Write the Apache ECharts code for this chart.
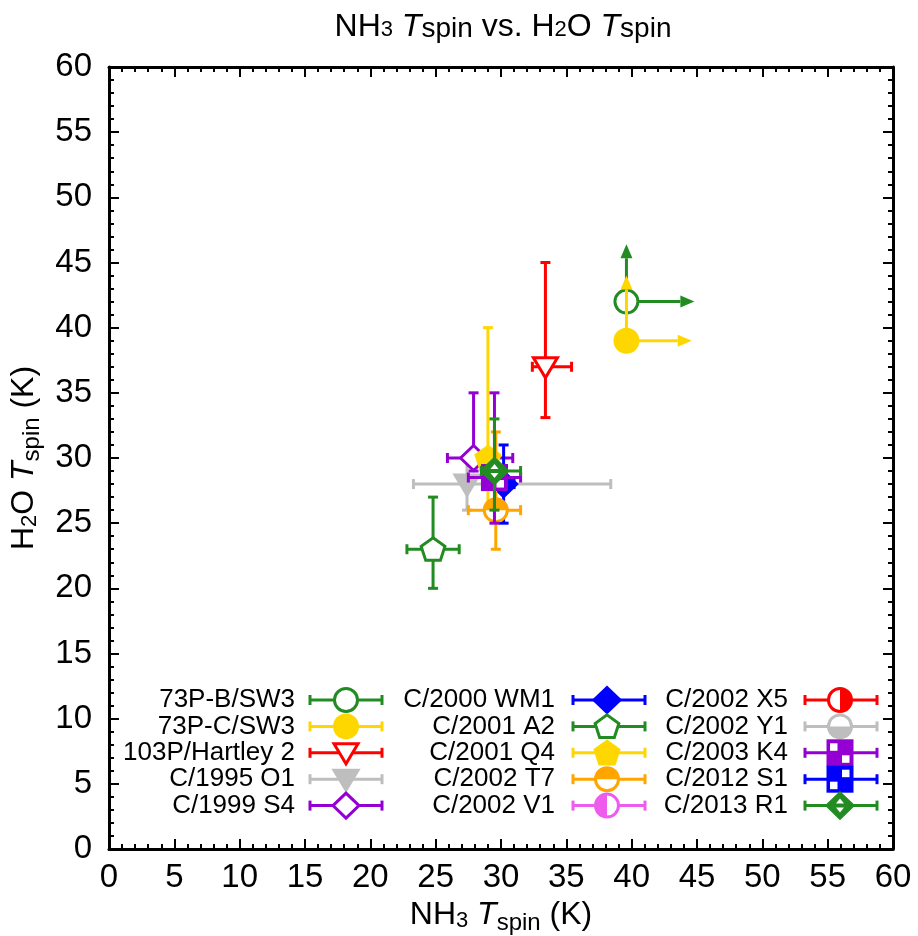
<!DOCTYPE html>
<html>
<head>
<meta charset="utf-8">
<script src="https://cdn.jsdelivr.net/npm/echarts@6/dist/echarts.min.js"></script>
<style>
  html, body { margin: 0; padding: 0; background: #fff; }
  #chart { width: 918px; height: 936px; }
</style>
</head>
<body>
<div id="chart"></div>
<script>
// Spin temperatures (K) of NH3 and H2O for a sample of comets.
const comets = [
  '73P-B/SW3', '73P-C/SW3', '103P/Hartley 2', 'C/1995 O1', 'C/1999 S4',
  'C/2000 WM1', 'C/2001 A2', 'C/2001 Q4', 'C/2002 T7', 'C/2002 V1',
  'C/2002 X5', 'C/2002 Y1', 'C/2003 K4', 'C/2012 S1', 'C/2013 R1'
];
const nh3     = [39.6, 39.6, 33.4, 27.4, 27.9, 30.2, 24.8, 29.0, 29.6, 29.5, 29.5, 29.5, 29.5, 29.5, 29.5];
const nh3Low  = [null, null, 32.4, 23.3, 25.9, 29.4, 22.8, 28.4, 27.5, 29.0, 29.0, 29.0, 27.5, 29.0, 28.5];
const nh3High = [null, null, 35.4, 38.4, 30.9, 31.0, 26.8, 29.6, 31.5, 30.0, 30.0, 30.0, 31.5, 30.0, 31.5];
const h2o     = [42.0, 39.0, 37.0, 28.0, 30.0, 28.0, 23.0, 30.0, 26.0, 28.5, 28.5, 28.5, 28.5, 28.5, 29.0];
const h2oLow  = [null, null, 33.1, 26.0, 29.0, 25.0, 20.0, 26.0, 23.0, 28.0, 28.0, 28.0, 25.0, 28.0, 26.0];
const h2oHigh = [null, null, 45.0, 30.0, 35.0, 31.0, 27.0, 40.0, 32.0, 29.0, 29.0, 29.0, 35.0, 29.0, 33.0];
// lower limits: arrow tips (in K) for the 73P fragments
const nh3LimitTo = [44.8, 44.6, null, null, null, null, null, null, null, null, null, null, null, null, null];
const h2oLimitTo = [46.4, 44.0, null, null, null, null, null, null, null, null, null, null, null, null, null];

const axisTicks = [0, 5, 10, 15, 20, 25, 30, 35, 40, 45, 50, 55, 60];

// marker appearance per comet
const markerKinds = [
  'circleOpen', 'circleFill', 'triDownOpen', 'triDownFill', 'diamondOpen',
  'diamondFill', 'pentOpen', 'pentFill', 'halfTop', 'halfLeft',
  'halfRight', 'halfBottom', 'squareA', 'squareB', 'diamondMarked'
];
const markerColors = [
  '#228B22', '#FFD700', '#FF0000', '#BEBEBE', '#9400D3',
  '#0000FF', '#228B22', '#FFD700', '#FFA500', '#EE5CEE',
  '#FF0000', '#BEBEBE', '#9400D3', '#0000FF', '#228B22'
];
// markers drawn underneath the cluster
const markerZ = [2, 2, 2, 2, 2, 2, 2, 2, 2, 1, 1, 1, 2, 1, 3];

const FONT = '"Liberation Sans", Arial, Helvetica, sans-serif';
const LW = 3;

function markerEls(kind, color, x, y) {
  const els = [];
  const R = 11.5;
  const half = (a0, a1) => [
    { type: 'circle', shape: { cx: x, cy: y, r: R }, style: { fill: '#fff', stroke: color, lineWidth: LW } },
    { type: 'sector', shape: { cx: x, cy: y, r0: 0, r: R, startAngle: a0, endAngle: a1, clockwise: true }, style: { fill: color } }
  ];
  const tri = [[x - 12, y - 9], [x + 12, y - 9], [x, y + 11]];
  const dia = [[x, y - 12.5], [x + 13, y], [x, y + 12.5], [x - 13, y]];
  const pent = [];
  for (let k = 0; k < 5; k++) {
    const a = -Math.PI / 2 + k * 2 * Math.PI / 5;
    pent.push([x + 12.5 * Math.cos(a), y + 1 + 12.5 * Math.sin(a)]);
  }
  const poly = (pts, fill) => ({ type: 'polygon', shape: { points: pts }, style: { fill: fill, stroke: color, lineWidth: LW, lineJoin: 'miter' } });
  switch (kind) {
    case 'circleOpen': els.push({ type: 'circle', shape: { cx: x, cy: y, r: R }, style: { fill: '#fff', stroke: color, lineWidth: LW } }); break;
    case 'circleFill': els.push({ type: 'circle', shape: { cx: x, cy: y, r: R + 1.5 }, style: { fill: color } }); break;
    case 'triDownOpen': els.push(poly(tri, '#fff')); break;
    case 'triDownFill': els.push(poly(tri, color)); break;
    case 'diamondOpen': els.push(poly(dia, '#fff')); break;
    case 'diamondFill': els.push(poly(dia, color)); break;
    case 'pentOpen': els.push(poly(pent, '#fff')); break;
    case 'pentFill': els.push(poly(pent, color)); break;
    case 'halfTop': els.push(...half(Math.PI, 2 * Math.PI)); break;
    case 'halfBottom': els.push(...half(0, Math.PI)); break;
    case 'halfLeft': els.push(...half(Math.PI / 2, 3 * Math.PI / 2)); break;
    case 'halfRight': els.push(...half(-Math.PI / 2, Math.PI / 2)); break;
    case 'squareA':
    case 'squareB': {
      const s = 27, x0 = x - s / 2, y0 = y - s / 2;
      els.push({ type: 'rect', shape: { x: x0, y: y0, width: s, height: s }, style: { fill: color } });
      const holes = kind === 'squareA' ? [[3.5, 4], [15.5, 16]] : [[15.5, 4], [3.5, 16]];
      holes.forEach(h => els.push({ type: 'rect', shape: { x: x0 + h[0], y: y0 + h[1], width: 7.5, height: 7.5 }, style: { fill: '#fff' } }));
      break;
    }
    case 'diamondMarked':
      els.push(poly(dia, color));
      els.push({ type: 'polygon', shape: { points: [[x, y - 7], [x + 4, y - 2], [x - 4, y - 2]] }, style: { fill: '#fff' } });
      els.push({ type: 'polygon', shape: { points: [[x, y + 7], [x + 4, y + 2], [x - 4, y + 2]] }, style: { fill: '#fff' } });
      break;
  }
  return els;
}

function errBar(color, p0, p1, horizontal) {
  const c = 5;
  const st = { stroke: color, lineWidth: LW };
  const els = [{ type: 'line', shape: { x1: p0[0], y1: p0[1], x2: p1[0], y2: p1[1] }, style: st }];
  [p0, p1].forEach(p => {
    els.push(horizontal
      ? { type: 'line', shape: { x1: p[0], y1: p[1] - c, x2: p[0], y2: p[1] + c }, style: st }
      : { type: 'line', shape: { x1: p[0] - c, y1: p[1], x2: p[0] + c, y2: p[1] }, style: st });
  });
  return els;
}

function arrowEls(color, from, to) {
  const dx = to[0] - from[0], dy = to[1] - from[1];
  const len = Math.hypot(dx, dy) || 1;
  const ux = dx / len, uy = dy / len;
  const head = 14, hw = 6;
  const bx = to[0] - ux * head, by = to[1] - uy * head;
  return [
    { type: 'line', shape: { x1: from[0], y1: from[1], x2: bx, y2: by }, style: { stroke: color, lineWidth: LW } },
    { type: 'polygon', shape: { points: [[to[0], to[1]], [bx - uy * hw, by + ux * hw], [bx + uy * hw, by - ux * hw]] }, style: { fill: color } }
  ];
}

const series = comets.map((name, i) => ({
  type: 'custom',
  name: name,
  z: markerZ[i],
  animation: false,
  silent: true,
  data: [[nh3[i], h2o[i]]],
  encode: { x: 0, y: 1 },
  renderItem: (params, api) => {
    const color = markerColors[i];
    const x = api.value(0), y = api.value(1);
    const c = api.coord([x, y]);
    const els = [];
    if (nh3Low[i] != null) els.push(...errBar(color, api.coord([nh3Low[i], y]), api.coord([nh3High[i], y]), true));
    if (h2oLow[i] != null) els.push(...errBar(color, api.coord([x, h2oLow[i]]), api.coord([x, h2oHigh[i]]), false));
    if (nh3LimitTo[i] != null) els.push(...arrowEls(color, c, api.coord([nh3LimitTo[i], y])));
    if (h2oLimitTo[i] != null) els.push(...arrowEls(color, c, api.coord([x, h2oLimitTo[i]])));
    els.push(...markerEls(markerKinds[i], color, c[0], c[1]));
    return { type: 'group', children: els };
  }
}));

// key: three columns of five entries, label on the left, sample bar on the right
const keyCols = [
  { textRight: 295, x1: 310, x2: 382, cx: 346 },
  { textRight: 555, x1: 573, x2: 645, cx: 607 },
  { textRight: 788, x1: 805, x2: 877, cx: 840 }
];
const keyTop = 700, keyStep = 26.4;
const keyEls = [];
comets.forEach((name, i) => {
  const col = keyCols[Math.floor(i / 5)];
  const y = keyTop + (i % 5) * keyStep;
  const color = markerColors[i];
  keyEls.push({ type: 'text', x: col.textRight, y: y, style: { text: name, fontSize: 26, fontFamily: FONT, fill: '#000', align: 'right', verticalAlign: 'middle' } });
  keyEls.push(...errBar(color, [col.x1, y], [col.x2, y], true));
  keyEls.push(...markerEls(markerKinds[i], color, col.cx, y));
});

const nameRich = {
  n: { fontSize: 32, fontFamily: FONT, color: '#000', verticalAlign: 'bottom', padding: [0, 0, 5, 0] },
  d: { fontSize: 22, fontFamily: FONT, color: '#000', verticalAlign: 'bottom', padding: [0, 0, 4, 0] },
  it: { fontSize: 32, fontFamily: FONT, fontStyle: 'italic', color: '#000', verticalAlign: 'bottom', padding: [0, 0, 5, 0] },
  s: { fontSize: 24, fontFamily: FONT, color: '#000', verticalAlign: 'bottom', padding: [0, 0, 1, 0] }
};
const titleRich = {
  n: { fontSize: 32, fontFamily: FONT, fill: '#000', verticalAlign: 'bottom' },
  d: { fontSize: 22, fontFamily: FONT, fill: '#000', verticalAlign: 'bottom', padding: [0, 0, 2, 0] },
  it: { fontSize: 32, fontFamily: FONT, fontStyle: 'italic', fill: '#000', verticalAlign: 'bottom' },
  s: { fontSize: 28, fontFamily: FONT, fill: '#000', verticalAlign: 'bottom' }
};

function axisCommon(extra) {
  return Object.assign({
    type: 'value', min: axisTicks[0], max: axisTicks[axisTicks.length - 1], interval: axisTicks[1] - axisTicks[0],
    axisLine: { show: true, onZero: false, lineStyle: { color: '#000', width: 3 } },
    axisTick: { show: true, inside: true, length: 10, lineStyle: { color: '#000', width: 2 } },
    minorTick: { show: true, splitNumber: 5, length: 5, lineStyle: { color: '#000', width: 2 } },
    splitLine: { show: false },
    minorSplitLine: { show: false }
  }, extra);
}
const tickLabel = { show: true, fontSize: 33, fontFamily: FONT, color: '#000', showMinLabel: true, showMaxLabel: true };

const option = {
  backgroundColor: '#fff',
  animation: false,
  grid: { left: 109, right: 25, top: 67, bottom: 87, outerBoundsMode: 'none', containLabel: false },
  xAxis: [
    axisCommon({
      position: 'bottom',
      axisLabel: Object.assign({ margin: 12 }, tickLabel),
      name: '{n|NH}{d|3}{n| }{it|T}{s|spin}{n| (K)}',
      nameLocation: 'middle', nameGap: 49,
      nameTextStyle: { rich: nameRich }
    }),
    axisCommon({ position: 'top', axisLabel: { show: false } })
  ],
  yAxis: [
    axisCommon({
      position: 'left',
      axisLabel: Object.assign({ margin: 17 }, tickLabel),
      name: '{n|H}{d|2}{n|O }{it|T}{s|spin}{n| (K)}',
      nameLocation: 'middle', nameGap: 55, nameRotate: 90,
      nameTextStyle: { rich: nameRich }
    }),
    axisCommon({ position: 'right', axisLabel: { show: false } })
  ],
  graphic: {
    elements: [
      {
        type: 'text', x: 503, y: 27,
        style: {
          text: '{n|NH}{d|3}{n| }{it|T}{s|spin}{n| vs. H}{d|2}{n|O }{it|T}{s|spin}',
          rich: titleRich, align: 'center', verticalAlign: 'middle'
        }
      },
      { type: 'group', children: keyEls, z: 10 }
    ]
  },
  series: series
};

const chart = echarts.init(document.getElementById('chart'), null, { renderer: 'canvas' });
chart.setOption(option);
</script>
</body>
</html>
